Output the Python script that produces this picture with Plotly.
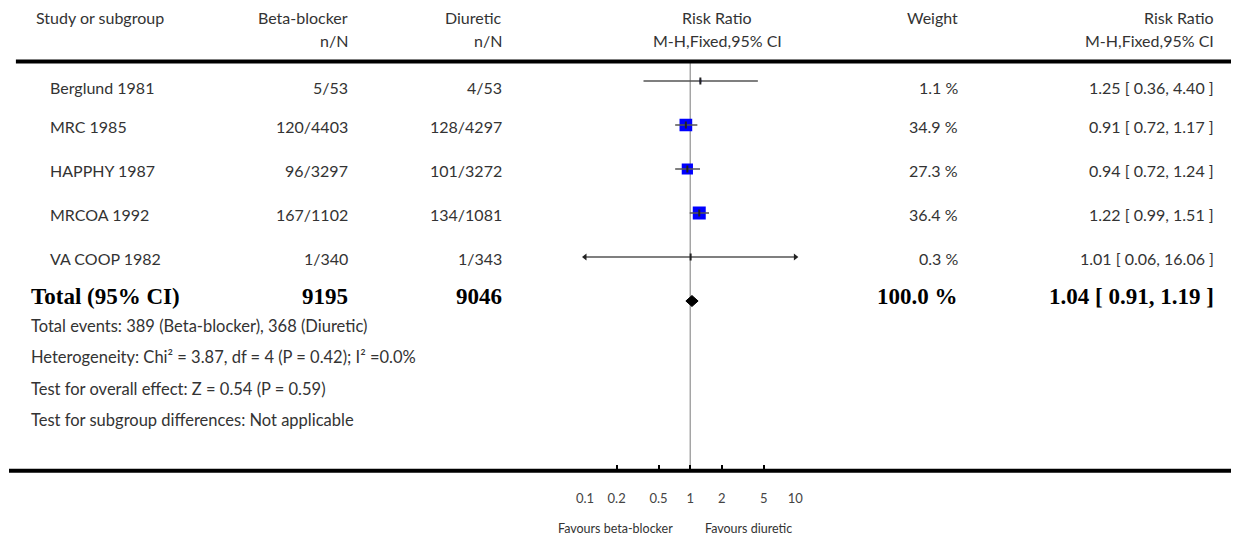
import plotly.graph_objects as go

# ---------------- data ----------------
studies = ["Berglund 1981", "MRC 1985", "HAPPHY 1987", "MRCOA 1992", "VA COOP 1982"]
bb_events = [5, 120, 96, 167, 1]
bb_total = [53, 4403, 3297, 1102, 340]
di_events = [4, 128, 101, 134, 1]
di_total = [53, 4297, 3272, 1081, 343]
weights = [1.1, 34.9, 27.3, 36.4, 0.3]
rr = [1.25, 0.91, 0.94, 1.22, 1.01]
rr_lo = [0.36, 0.72, 0.72, 0.99, 0.06]
rr_hi = [4.40, 1.17, 1.24, 1.51, 16.06]

total_label = "Total (95% CI)"
total_bb = 9195
total_di = 9046
total_weight = 100.0
total_rr = 1.04
total_lo = 0.91
total_hi = 1.19

footer_lines = [
    "Total events: 389 (Beta-blocker), 368 (Diuretic)",
    "Heterogeneity: Chi² = 3.87, df = 4 (P = 0.42); I² =0.0%",
    "Test for overall effect: Z = 0.54 (P = 0.59)",
    "Test for subgroup differences: Not applicable",
]

tick_vals = [0.1, 0.2, 0.5, 1, 2, 5, 10]
tick_text = ["0.1", "0.2", "0.5", "1", "2", "5", "10"]
x_min, x_max = 0.1, 10
left_label = "Favours beta-blocker"
right_label = "Favours diuretic"

# ---------------- layout constants ----------------
W, H = 1239, 540
FONT = "Lato, 'Open Sans', sans-serif"
BOLD_FONT = "'Liberation Serif', 'Times New Roman', serif"
TXT = "#333333"
FS = 16
ROW0 = 82
ROW_STEP = 44
AXIS_Y = 470.7
HEADER_LINE_Y = 61.5

def row_y(i):
    return ROW0 + ROW_STEP * i

def px(x):
    return x / W

fig = go.Figure()

# line of no effect
fig.add_trace(go.Scatter(x=[1, 1], y=[HEADER_LINE_Y, AXIS_Y], mode="lines",
                         line=dict(color="#7a7a7a", width=1), hoverinfo="skip",
                         showlegend=False))

# weighted squares
sq_y = [row_y(i) - 1 for i in range(len(studies))]
sq_s = [2.15 * w ** 0.5 for w in weights]
fig.add_trace(go.Scatter(x=rr, y=sq_y, mode="markers", opacity=1,
                         marker=dict(symbol="square", size=sq_s, color="#0000ff",
                                     opacity=1, line=dict(width=0)),
                         hoverinfo="skip", showlegend=False))

# confidence intervals (clipped at axis limits with arrowheads)
for i in range(len(studies)):
    y = sq_y[i]
    lo = max(rr_lo[i], x_min)
    hi = min(rr_hi[i], x_max)
    fig.add_trace(go.Scatter(x=[lo, hi], y=[y, y], mode="lines",
                             line=dict(color="#555555", width=1.5),
                             hoverinfo="skip", showlegend=False, cliponaxis=False))
    if rr_lo[i] < x_min:
        fig.add_trace(go.Scatter(x=[x_min], y=[y], mode="markers",
                                 marker=dict(symbol="triangle-left", size=6, color="#222"),
                                 hoverinfo="skip", showlegend=False, cliponaxis=False))
    if rr_hi[i] > x_max:
        fig.add_trace(go.Scatter(x=[x_max], y=[y], mode="markers",
                                 marker=dict(symbol="triangle-right", size=6, color="#222"),
                                 hoverinfo="skip", showlegend=False, cliponaxis=False))

# point-estimate ticks
fig.add_trace(go.Scatter(x=rr, y=sq_y, mode="markers",
                         marker=dict(symbol="line-ns", size=5,
                                     line=dict(color="#222", width=2)),
                         hoverinfo="skip", showlegend=False))

# pooled diamond
ty = row_y(len(studies)) - 1
fig.add_trace(go.Scatter(x=[total_lo, total_rr, total_hi, total_rr, total_lo],
                         y=[ty, ty - 5.5, ty, ty + 5.5, ty], mode="lines",
                         fill="toself", fillcolor="black",
                         line=dict(color="black", width=1),
                         hoverinfo="skip", showlegend=False))

# rules
fig.add_shape(type="line", xref="paper", yref="y", x0=px(7), x1=1,
              y0=HEADER_LINE_Y, y1=HEADER_LINE_Y, line=dict(color="black", width=4))
fig.add_shape(type="line", xref="paper", yref="y", x0=0, x1=1,
              y0=AXIS_Y, y1=AXIS_Y, line=dict(color="black", width=4))

def ann(text, x, y, anchor, bold=False, size=None, color=None):
    fig.add_annotation(text=f"<b>{text}</b>" if bold else text,
                       xref="paper", yref="y", x=px(x), y=y,
                       xanchor=anchor, yanchor="middle", showarrow=False,
                       borderpad=0, borderwidth=0,
                       font=dict(family=BOLD_FONT if bold else FONT,
                                 size=size or (23 if bold else FS),
                                 color=color or ("black" if bold else TXT)))

C_STUDY = 27
C_STUDY_IN = 42
C_TOTAL = 22
C_BB = 344
C_DI = 500
C_RR = 718
C_W = 962
C_CI = 1222

# header
ann("Study or subgroup", C_STUDY, 17, "left")
ann("Beta-blocker", C_BB, 17, "right")
ann("Diuretic", C_DI, 17, "right")
ann("Risk Ratio", C_RR, 17, "center")
ann("Weight", C_W, 17, "right")
ann("Risk Ratio", C_CI, 17, "right")
ann("n/N", C_BB, 40, "right")
ann("n/N", C_DI, 40, "right")
ann("M-H,Fixed,95% CI", C_RR, 40, "center")
ann("M-H,Fixed,95% CI", C_CI, 40, "right")

# study rows
for i, s in enumerate(studies):
    y = row_y(i) + (5 if i == 0 else 0)
    ann(s, C_STUDY_IN, y, "left")
    ann(f"{bb_events[i]}/{bb_total[i]}", C_BB, y, "right")
    ann(f"{di_events[i]}/{di_total[i]}", C_DI, y, "right")
    ann(f"{weights[i]:.1f} %", C_W, y, "right")
    ann(f"{rr[i]:.2f} [ {rr_lo[i]:.2f}, {rr_hi[i]:.2f} ]", C_CI, y, "right")

# total row
tty = row_y(len(studies)) - 6
ann(total_label, C_TOTAL, tty, "left", bold=True)
ann(str(total_bb), C_BB, tty, "right", bold=True)
ann(str(total_di), C_DI, tty, "right", bold=True)
ann(f"{total_weight:.1f} %", C_W, tty, "right", bold=True)
ann(f"{total_rr:.2f} [ {total_lo:.2f}, {total_hi:.2f} ]", C_CI, tty, "right", bold=True)

# footer
for k, line in enumerate(footer_lines):
    ann(line, C_TOTAL, 326 + 31.3 * k, "left", size=16.5)

# favours labels
ann(left_label, 673, 528, "right", size=12.5)
ann(right_label, 706, 528, "left", size=12.5)

fig.update_layout(
    width=W, height=H,
    margin=dict(l=0, r=0, t=0, b=0),
    paper_bgcolor="white", plot_bgcolor="white",
    showlegend=False,
    xaxis=dict(type="log", range=[-1, 1], domain=[584 / W, 797.3 / W],
               anchor="free", position=1 - AXIS_Y / H,
               showgrid=False, zeroline=False, showline=False,
               ticks="inside", ticklen=6, tickwidth=2, tickcolor="black",
               tickvals=tick_vals, ticktext=tick_text,
               ticklabelstandoff=18,
               tickfont=dict(family=FONT, size=13, color="#444444")),
    yaxis=dict(range=[H, 0], domain=[0, 1], visible=False,
               showgrid=False, zeroline=False),
)

fig.write_html("out.html")
